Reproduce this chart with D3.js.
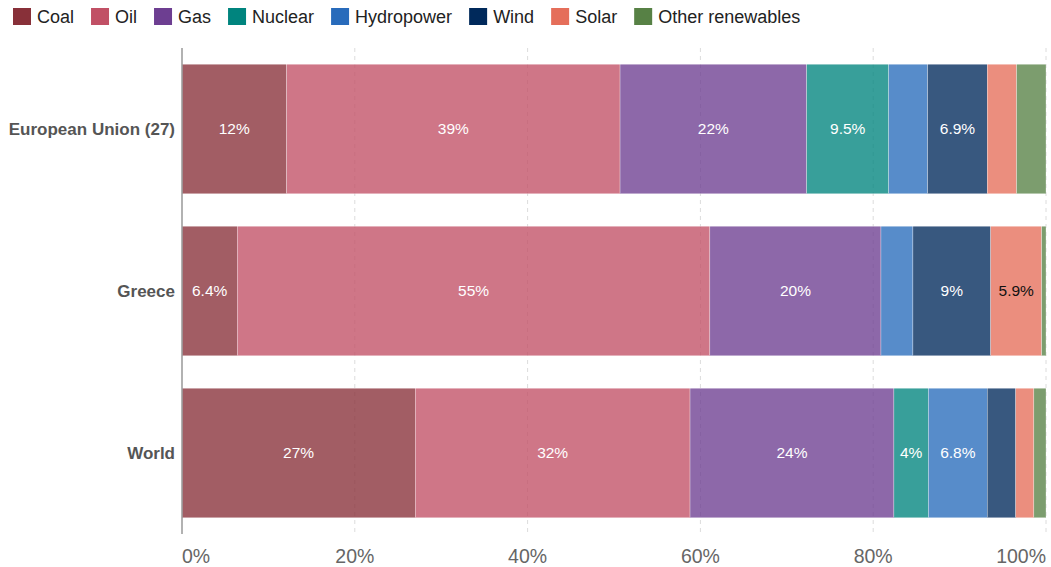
<!DOCTYPE html>
<html>
<head>
<meta charset="utf-8">
<script src="https://cdn.jsdelivr.net/npm/d3@7"></script>
<style>
  body { margin: 0; background: #fff; }
  svg { font-family: "Liberation Sans", Arial, sans-serif; }
</style>
</head>
<body>
<div id="chart"></div>
<script>
// energy mix, share of primary energy (%)
const entities = ["European Union (27)", "Greece", "World"];
const sources = ["Coal", "Oil", "Gas", "Nuclear", "Hydropower", "Wind", "Solar", "Other renewables"];
const colors = ["#883039", "#C15065", "#6D3E91", "#00847E", "#286BBB", "#00295B", "#E56E5A", "#578145"];

const euValues     = [12.1, 38.6, 21.6, 9.5, 4.5, 6.9, 3.4, 3.4];
const greeceValues = [6.4, 54.7, 19.8, 0, 3.7, 9.0, 5.9, 0.5];
const worldValues  = [27.0, 31.8, 23.6, 4.0, 6.8, 3.3, 2.1, 1.4];

const xTicks = [0, 20, 40, 60, 80, 100];

const W = 1051, H = 567;
const margin = {left: 182, right: 5};

const rows = [euValues, greeceValues, worldValues].map((vals, i) => {
    const row = {entity: entities[i]};
    sources.forEach((s, j) => row[s] = vals[j]);
    return row;
});

const svg = d3.select("#chart").append("svg")
    .attr("width", W)
    .attr("height", H);

const x = d3.scaleLinear().domain([0, 100]).range([margin.left, W - margin.right]);
const y = d3.scaleBand().domain(entities).range([48, 534]).paddingInner(0.2).paddingOuter(0.1);
const color = d3.scaleOrdinal().domain(sources).range(colors);

// Legend
const legend = svg.append("g").attr("class", "legend");
let lx = 13;
sources.forEach(s => {
    const g = legend.append("g").attr("transform", `translate(${lx},0)`);
    g.append("rect")
        .attr("x", 0).attr("y", 8)
        .attr("width", 18).attr("height", 17)
        .attr("fill", color(s));
    const t = g.append("text")
        .attr("x", 24).attr("y", 23)
        .attr("font-size", 18)
        .attr("fill", "#222")
        .text(s);
    lx += 24 + t.node().getComputedTextLength() + 17;
});

// Grid
svg.append("g")
    .selectAll("line")
    .data(xTicks.filter(d => d > 0))
    .join("line")
    .attr("x1", d => x(d)).attr("x2", d => x(d))
    .attr("y1", 48).attr("y2", 534)
    .attr("stroke", "#dcdcdc")
    .attr("stroke-dasharray", "4,4");

// Bars
const series = d3.stack().keys(sources)(rows);
const fmt = d3.format(".2~r");

const layers = svg.append("g")
    .selectAll("g")
    .data(series)
    .join("g")
    .attr("fill", d => color(d.key));

layers.selectAll("rect")
    .data(d => d)
    .join("rect")
    .attr("x", d => x(d[0]))
    .attr("y", d => y(d.data.entity))
    .attr("width", d => x(d[1]) - x(d[0]))
    .attr("height", y.bandwidth())
    .attr("fill-opacity", 0.78)
    .attr("stroke", "#fff")
    .attr("stroke-width", 0.3);

// Labels inside segments
series.forEach(layer => {
    layer.forEach(d => {
        const val = d[1] - d[0];
        if (val <= 0) return;
        const segW = x(d[1]) - x(d[0]);
        const t = svg.append("text")
            .attr("x", (x(d[0]) + x(d[1])) / 2)
            .attr("y", y(d.data.entity) + y.bandwidth() / 2 + 5)
            .attr("text-anchor", "middle")
            .attr("font-size", 15.5)
            .attr("fill", layer.key === "Solar" ? "#111" : "#fff")
            .text(fmt(val) + "%");
        if (t.node().getComputedTextLength() + 10 > segW) t.remove();
    });
});

// Y axis line + labels
svg.append("line")
    .attr("x1", margin.left).attr("x2", margin.left)
    .attr("y1", 48).attr("y2", 534)
    .attr("stroke", "#999")
    .attr("stroke-width", 1.5);

svg.append("g")
    .selectAll("text")
    .data(entities)
    .join("text")
    .attr("x", margin.left - 7)
    .attr("y", d => y(d) + y.bandwidth() / 2 + 6)
    .attr("text-anchor", "end")
    .attr("font-size", 17)
    .attr("font-weight", "bold")
    .attr("fill", "#555")
    .text(d => d);

// X tick labels
svg.append("g")
    .selectAll("text")
    .data(xTicks)
    .join("text")
    .attr("x", d => x(d))
    .attr("y", 563)
    .attr("text-anchor", (d, i) => i === 0 ? "start" : i === xTicks.length - 1 ? "end" : "middle")
    .attr("font-size", 19.5)
    .attr("fill", "#666")
    .text(d => d + "%");
</script>
</body>
</html>
